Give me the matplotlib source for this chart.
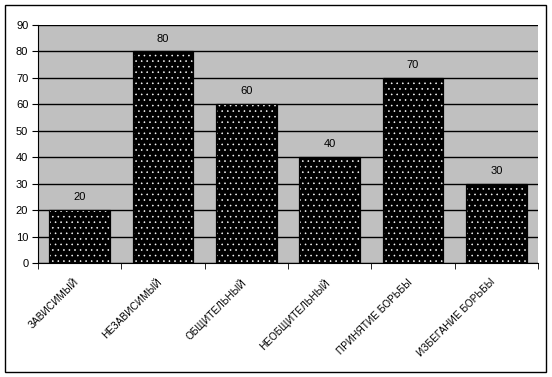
import matplotlib
matplotlib.use("Agg")
import matplotlib.pyplot as plt
from matplotlib.patches import Rectangle
from matplotlib.transforms import ScaledTranslation
import numpy as np

categories = ["ЗАВИСИМЫЙ", "НЕЗАВИСИМЫЙ", "ОБЩИТЕЛЬНЫЙ", "НЕОБЩИТЕЛЬНЫЙ",
              "ПРИНЯТИЕ БОРЬБЫ", "ИЗБЕГАНИЕ БОРЬБЫ"]
values = [20, 80, 60, 40, 70, 30]
yticks = list(range(0, 100, 10))

plt.rcParams['font.family'] = ['Liberation Sans', 'DejaVu Sans']
plt.rcParams['hatch.linewidth'] = 0.4

fig = plt.figure(figsize=(5.52, 3.77), dpi=100)
ax = fig.add_axes([38/552, 1-263/377, 500/552, 238/377])
ax.set_facecolor('#C0C0C0')

x = np.arange(len(categories))
ax.bar(x, values, width=0.73, color='black', edgecolor='black', linewidth=0.8, zorder=3)
ax.bar(x, values, width=0.73, facecolor='none', edgecolor='white', hatch='...',
       linewidth=0, zorder=4)
ax.bar(x, values, width=0.73, facecolor='none', edgecolor='black', linewidth=0.8, zorder=5)

for xi, v in zip(x, values):
    ax.text(xi, v + 3, str(v), ha='center', va='bottom', fontsize=8, zorder=6)

ax.set_xlim(-0.5, len(categories) - 0.5)
ax.set_ylim(0, 90)
ax.set_yticks(yticks)
ax.set_yticklabels([str(t) for t in yticks], fontsize=8)
ax.yaxis.grid(True, color='black', linewidth=1.0, zorder=1)
ax.set_axisbelow(True)

ax.set_xticks(x)
ax.set_xticklabels(categories, rotation=45, ha='right', rotation_mode='anchor',
                   fontsize=7.2)
ax.tick_params(axis='x', which='major', length=0, pad=10)
offset = ScaledTranslation(-0.06, 0, fig.dpi_scale_trans)
for lbl in ax.get_xticklabels():
    lbl.set_transform(lbl.get_transform() + offset)
ax.set_xticks(np.arange(-0.5, len(categories)), minor=True)
ax.tick_params(axis='x', which='minor', length=4, direction='out', color='black')
ax.tick_params(axis='y', length=4, direction='out', pad=3)

for s in ['top', 'right']:
    ax.spines[s].set_visible(False)
ax.spines['left'].set_color('black')
ax.spines['bottom'].set_color('black')

fig.patches.append(Rectangle((5/552, 1-372/377), 541/552, 367/377,
                             transform=fig.transFigure, fill=False,
                             edgecolor='black', linewidth=1.0))

fig.savefig('out.png', dpi=100)
